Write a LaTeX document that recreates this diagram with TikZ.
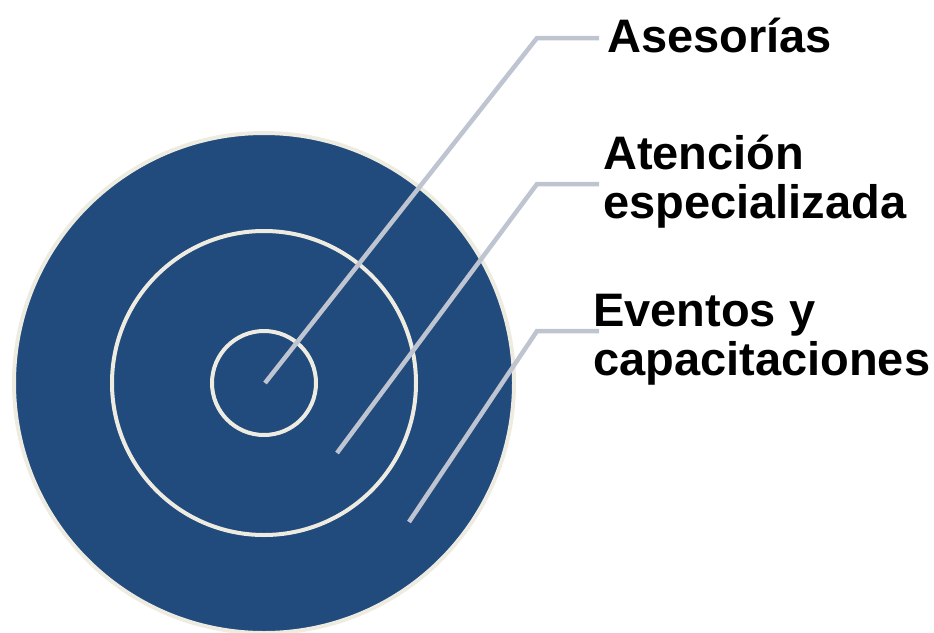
\documentclass[tikz,border=0pt]{standalone}
\usepackage{fontspec}
\setmainfont{Liberation Sans}
\definecolor{targetblue}{RGB}{33,74,125}
\definecolor{ringcream}{RGB}{238,236,225}
\definecolor{pingray}{RGB}{190,196,208}
\tikzset{
	ring/.style={draw=ringcream,line width=4pt},
	pin/.style={draw=pingray,line width=4.5pt},
	tag/.style={font=\bfseries\fontsize{47}{49}\selectfont,align=left,inner sep=0pt,anchor=base west}
}
\begin{document}
\begin{tikzpicture}[x=1pt,y=-1pt]
		\useasboundingbox (0,0) rectangle (934,632);
		\coordinate (ctr) at (264,383);
		\fill[targetblue,ring] (ctr) circle (250);
		\draw[ring] (ctr) circle (152);
		\draw[ring] (ctr) circle (52);
		% pins
		\coordinate (c1) at (265,383);
		\coordinate (c2) at (337,453);
		\coordinate (c3) at (409,522);
		\coordinate (k1) at (537,38);
		\coordinate (k2) at (537,184);
		\coordinate (k3) at (537,331);
		\coordinate (e1) at (599,38);
		\coordinate (e2) at (599,184);
		\coordinate (e3) at (599,331);
		\draw[pin] (c1) -- (k1) -- (e1);
		\draw[pin] (c2) -- (k2) -- (e2);
		\draw[pin] (c3) -- (k3) -- (e3);
		% labels
		\node[tag] (a1) at (607,52) {Asesorías};
		\node[tag] (a2) at (603,218) {Atención\\especializada};
		\node[tag] (a3) at (593,375) {Eventos y\\capacitaciones};
	\end{tikzpicture}
\end{document}
